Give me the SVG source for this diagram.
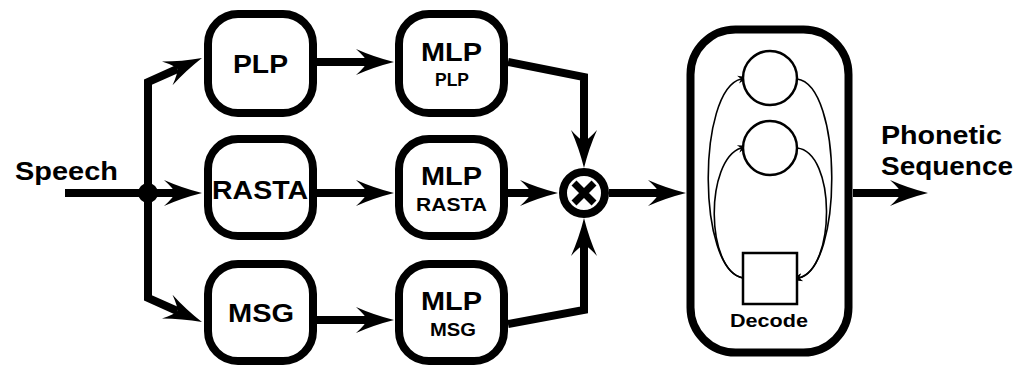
<svg xmlns="http://www.w3.org/2000/svg" width="1021" height="365" viewBox="0 0 1021 365">
  <style>
    .box { fill: #fff; stroke: #000; stroke-width: 8; }
    .big { font-family: "Liberation Sans", Arial, sans-serif; font-weight: bold; font-size: 25px; fill: #000; }
    .small { font-family: "Liberation Sans", Arial, sans-serif; font-weight: bold; font-size: 18px; fill: #000; }
    .wire { fill: none; stroke: #000; stroke-width: 8; stroke-linejoin: miter; }
    .thin { fill: none; stroke: #000; stroke-width: 1.6; }
    .state { fill: #fff; stroke: #000; stroke-width: 2.5; }
  </style>
  <defs>
    <!-- barbed head; reference point sits at the notch so the shaft hides inside -->
    <marker id="head" markerUnits="userSpaceOnUse" markerWidth="40" markerHeight="30" viewBox="-40 -15 40 30" refX="-27" refY="0" orient="auto" overflow="visible">
      <path d="M0,0 Q-20,-5 -38,-13 Q-28,-4 -27,0 Q-28,4 -38,13 Q-20,5 0,0 Z" fill="#000"/>
    </marker>
    <marker id="tip" markerUnits="userSpaceOnUse" markerWidth="12" markerHeight="10" viewBox="-12 -5 12 10" refX="-7" refY="0" orient="auto" overflow="visible">
      <path d="M0,0 L-10,-4 L-7,0 L-10,4 Z" fill="#000"/>
    </marker>
  </defs>

  <!-- connectors -->
  <g id="connectors">
    <line class="wire" x1="65" y1="193" x2="148" y2="193"/>
    <polyline class="wire" points="148,193 148,82 177.3,69" marker-end="url(#head)"/>
    <line class="wire" x1="148" y1="193" x2="175" y2="193" marker-end="url(#head)"/>
    <polyline class="wire" points="148,193 148,298 177.3,311" marker-end="url(#head)"/>
    <circle cx="148" cy="193" r="10" fill="#000"/>

    <line class="wire" x1="317" y1="62" x2="367" y2="62" marker-end="url(#head)"/>
    <line class="wire" x1="317" y1="193" x2="367" y2="193" marker-end="url(#head)"/>
    <line class="wire" x1="317" y1="320" x2="367" y2="320" marker-end="url(#head)"/>

    <polyline class="wire" points="508,62 584,77 584,141" marker-end="url(#head)"/>
    <line class="wire" x1="508" y1="193" x2="531" y2="193" marker-end="url(#head)"/>
    <polyline class="wire" points="508,324 584,310 584,245" marker-end="url(#head)"/>

    <line class="wire" x1="609" y1="193" x2="659" y2="193" marker-end="url(#head)"/>
    <line class="wire" x1="853" y1="193" x2="901" y2="193" marker-end="url(#head)"/>
  </g>

  <!-- front-end feature extractors -->
  <g id="plp">
    <rect class="box" x="208" y="14" width="105" height="99" rx="30"/>
    <text class="big" x="260.5" y="73" text-anchor="middle" textLength="55" lengthAdjust="spacingAndGlyphs">PLP</text>
  </g>
  <g id="rasta">
    <rect class="box" x="208" y="139" width="105" height="97" rx="30"/>
    <text class="big" x="260" y="199" text-anchor="middle" textLength="96" lengthAdjust="spacingAndGlyphs">RASTA</text>
  </g>
  <g id="msg">
    <rect class="box" x="208" y="264" width="105" height="97" rx="30"/>
    <text class="big" x="261" y="322" text-anchor="middle" textLength="66" lengthAdjust="spacingAndGlyphs">MSG</text>
  </g>

  <!-- per-stream classifiers -->
  <g id="mlp-plp">
    <rect class="box" x="399" y="14" width="105" height="99" rx="30"/>
    <text class="big" x="451.5" y="61" text-anchor="middle" textLength="61" lengthAdjust="spacingAndGlyphs">MLP</text>
    <text class="small" x="452" y="86" text-anchor="middle" textLength="34" lengthAdjust="spacingAndGlyphs">PLP</text>
  </g>
  <g id="mlp-rasta">
    <rect class="box" x="399" y="139" width="105" height="97" rx="30"/>
    <text class="big" x="451.5" y="185" text-anchor="middle" textLength="61" lengthAdjust="spacingAndGlyphs">MLP</text>
    <text class="small" x="451.5" y="211" text-anchor="middle" textLength="71" lengthAdjust="spacingAndGlyphs">RASTA</text>
  </g>
  <g id="mlp-msg">
    <rect class="box" x="399" y="264" width="105" height="97" rx="30"/>
    <text class="big" x="451.5" y="310" text-anchor="middle" textLength="61" lengthAdjust="spacingAndGlyphs">MLP</text>
    <text class="small" x="453" y="336" text-anchor="middle" textLength="46" lengthAdjust="spacingAndGlyphs">MSG</text>
  </g>

  <!-- product combiner -->
  <g id="combine">
    <circle cx="584" cy="193" r="21" fill="#fff" stroke="#000" stroke-width="8"/>
    <path d="M574,183 L594,203 M594,183 L574,203" stroke="#000" stroke-width="7" fill="none"/>
  </g>

  <!-- decoder with two-state model -->
  <g id="decode">
    <rect class="box" x="690.5" y="29.5" width="158" height="323" rx="45" stroke-width="9"/>
    <path class="thin" d="M743,278 C697,270 697,90 741,79" marker-end="url(#tip)"/>
    <path class="thin" d="M743,278 C705,270 705,160 741,148" marker-end="url(#tip)"/>
    <path class="thin" d="M797,79 C843,85 843,268 799,278" marker-end="url(#tip)"/>
    <path class="thin" d="M797,148 C836,152 836,268 799,278" marker-end="url(#tip)"/>
    <circle class="state" cx="770" cy="78" r="27"/>
    <circle class="state" cx="770" cy="148" r="27"/>
    <rect class="state" x="743" y="253" width="54" height="51"/>
    <text class="small" x="769" y="327" text-anchor="middle" font-size="19" style="font-size:19px" textLength="78" lengthAdjust="spacingAndGlyphs">Decode</text>
  </g>

  <!-- input and output labels -->
  <g id="speech">
    <text class="big" x="15" y="180" style="font-size:26px" textLength="103" lengthAdjust="spacingAndGlyphs">Speech</text>
  </g>
  <g id="phonetic-sequence">
    <text class="big" x="881" y="144" textLength="121" lengthAdjust="spacingAndGlyphs">Phonetic</text>
    <text class="big" x="881" y="175" textLength="132" lengthAdjust="spacingAndGlyphs">Sequence</text>
  </g>
</svg>
